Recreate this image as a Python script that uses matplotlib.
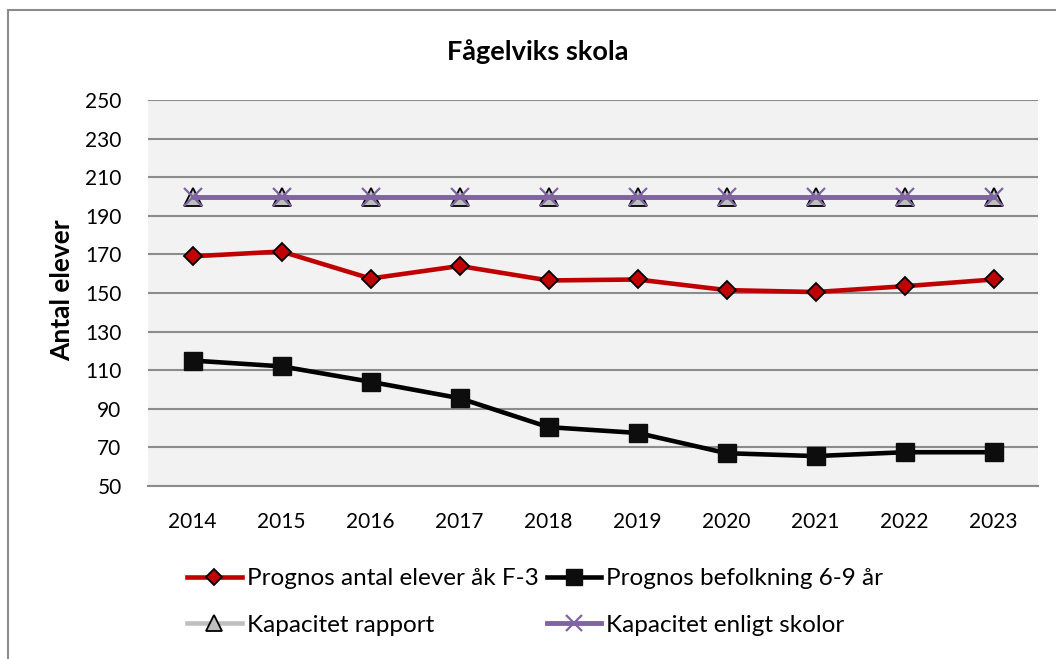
import matplotlib.pyplot as plt
from matplotlib.patches import Rectangle

plt.rcParams['font.family'] = ['Lato', 'DejaVu Sans']

years = ['2014', '2015', '2016', '2017', '2018', '2019', '2020', '2021', '2022', '2023']
prognos_elever = [169, 171.5, 157.5, 164, 156.5, 157, 151.5, 150.5, 153.5, 157]
prognos_befolkning = [115, 112, 104, 95.5, 80.5, 77.5, 67, 65.5, 67.5, 67.5]
kapacitet_rapport = [200, 200, 200, 200, 200, 200, 200, 200, 200, 200]
kapacitet_skolor = [200, 200, 200, 200, 200, 200, 200, 200, 200, 200]
yticks = list(range(50, 251, 20))

fig = plt.figure(figsize=(10.56, 6.59), dpi=100)
fig.patches.append(Rectangle((8 / 1056, -0.1), 1.2, 1 - 10 / 659 + 0.1,
                             transform=fig.transFigure, fill=False,
                             edgecolor='#8c8c8c', linewidth=1.5))

ax = fig.add_axes([148 / 1056, 1 - 486 / 659, 890 / 1056, 386 / 659])
ax.set_facecolor('#f2f2f2')
x = list(range(len(years)))

h1, = ax.plot(x, prognos_elever, color='#c00000', lw=3.3, marker='D', ms=9.5,
              mfc='#c00000', mec='black', mew=1.3, zorder=4)
h2, = ax.plot(x, prognos_befolkning, color='black', lw=3.3, marker='s', ms=13,
              mfc='#0d0d0d', mec='#0d0d0d', zorder=4)
h3, = ax.plot(x, kapacitet_rapport, color='#bfbfbf', lw=3.3, marker='^', ms=13,
              mfc='#bfbfbf', mec='black', mew=1.3, zorder=4)
h4, = ax.plot(x, kapacitet_skolor, color='#8064a2', lw=3.5, marker='x', ms=13,
              mew=1.6, mec='#8064a2', zorder=5)

ax.set_xlim(-0.5, len(years) - 0.5)
ax.set_ylim(50, 250)
ax.set_yticks(yticks)
ax.set_xticks(x)
ax.set_xticklabels(years)
ax.yaxis.grid(True, color='#8c8c8c', lw=1.5)
ax.set_axisbelow(True)
for s in ['left', 'right', 'top']:
    ax.spines[s].set_visible(False)
ax.spines['bottom'].set_color('#8c8c8c')
ax.spines['bottom'].set_linewidth(1.5)
ax.tick_params(length=0, labelsize=15, colors='black')
ax.tick_params(axis='x', pad=19)
ax.tick_params(axis='y', pad=19)

fig.text(538 / 1056, 1 - 52 / 659, 'Fågelviks skola', ha='center', va='center',
         fontsize=19.5, fontweight='bold')
fig.text(62 / 1056, 1 - 290 / 659, 'Antal elever', ha='center', va='center',
         rotation=90, fontsize=19, fontweight='bold')

fig.legend([h1, h3, h2, h4],
           ['Prognos antal elever åk F-3', 'Kapacitet rapport',
            'Prognos befolkning 6-9 år', 'Kapacitet enligt skolor'],
           ncol=2, loc='center left', bbox_to_anchor=(187 / 1056, 1 - 602 / 659),
           frameon=False, fontsize=17.5, handlelength=2.26, handletextpad=0.2,
           columnspacing=0.33, labelspacing=1.05, borderaxespad=0, borderpad=0,
           markerscale=0.9)

fig.savefig('out.png', dpi=100)
